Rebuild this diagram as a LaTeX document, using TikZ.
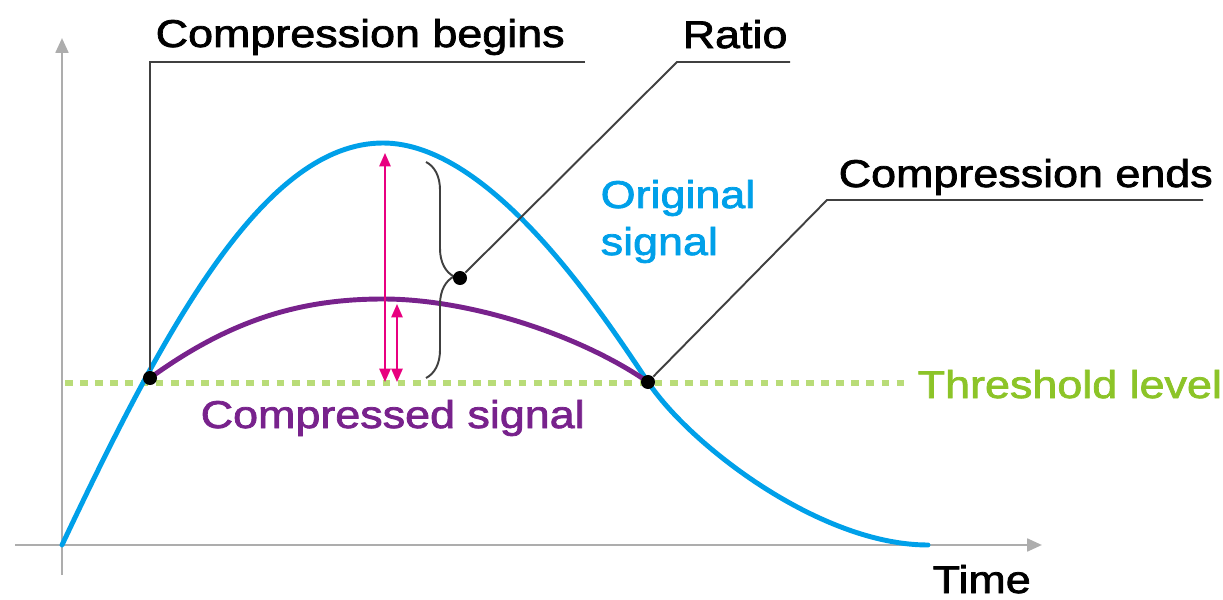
\documentclass[tikz,border=0pt]{standalone}
\usepackage{fontspec}
\setmainfont[FakeStretch=1.16,FakeBold=2]{Liberation Sans}
\usetikzlibrary{arrows.meta,decorations.pathreplacing}

\begin{document}
\begin{tikzpicture}[x=0.01cm,y=-0.01cm]
  \definecolor{sig}{RGB}{0,160,233}
  \definecolor{cmp}{RGB}{120,34,140}
  \definecolor{thr}{RGB}{140,196,40}
  \definecolor{thrdot}{RGB}{185,220,120}
  \definecolor{rat}{RGB}{232,0,128}
  \colorlet{ax}{black!32}
  \colorlet{ld}{black!75}
  \tikzset{lbl/.style={font=\fontsize{11}{13}\selectfont,inner sep=0pt,anchor=base west},
    dot/.style={circle,fill=black,inner sep=0pt,minimum size=0.14cm},
    lead/.style={line width=0.55pt,ld},
    ratarrow/.style={rat,line width=0.55pt,>={Triangle[length=3.8pt,width=3.2pt]},<->}}
  \useasboundingbox (0,0) rectangle (1223,600);

  % time axis and level axis
  \coordinate (yb) at (62,575);
  \coordinate (yt) at (62,38);
  \coordinate (xl) at (15,545);
  \coordinate (xr) at (1042,545);
  \draw[line width=0.75pt,ax,-{Triangle[length=4.2pt,width=3.6pt]}] (yb) -- (yt);
  \draw[line width=0.75pt,ax,-{Triangle[length=4.2pt,width=3.6pt]}] (xl) -- (xr);
  \node[lbl] (time) at (932,593) {Time};

  % threshold
  \coordinate (th0) at (65,383);
  \coordinate (th1) at (905,383);
  \draw[thrdot,line width=1.9pt,dash pattern=on 2.2pt off 2.1pt] (th0) -- (th1);
  \node[lbl,text=thr] (thr) at (917,398) {Threshold level};

  % the two signals
  \draw[sig,line width=1.4pt,line cap=round] (62,545) .. controls (166,325) and (265,143) .. (383,143)
    .. controls (490,143) and (600,310) .. (648,382)
    .. controls (690,445) and (820,545) .. (928,545);
  \draw[cmp,line width=1.4pt] (150,378) .. controls (230,320) and (300,299) .. (383,299)
    .. controls (470,299) and (580,335) .. (648,382);
  \node[lbl,text=sig] (orig1) at (600,208) {Original};
  \node[lbl,text=sig] (orig2) at (600,255) {signal};
  \node[lbl,text=cmp] (comp) at (200,428) {Compressed signal};

  % ratio arrows and brace
  \coordinate (aTop) at (385,153);
  \coordinate (aBot) at (385,382);
  \coordinate (bTop) at (397,304);
  \coordinate (bBot) at (397,382);
  \draw[ratarrow] (aBot) -- (aTop);
  \draw[ratarrow] (bBot) -- (bTop);
  \draw[ld,line width=0.55pt,decorate,decoration={brace,amplitude=0.28cm,aspect=0.53}]
    (426,162) -- (426,378);

  % labels with leaders
  \node[dot] (pb) at (150,378) {};
  \node[dot] (pe) at (648,382) {};
  \node[dot] (pr) at (460,278) {};
  \node[lbl] (beg) at (155,47) {Compression begins};
  \coordinate (begL) at (150,62);
  \coordinate (begR) at (585,62);
  \draw[lead] (begR) -- (begL) -- (pb);
  \node[lbl] (ratio) at (682,48) {Ratio};
  \coordinate (ratL) at (677,62);
  \coordinate (ratR) at (790,62);
  \draw[lead] (ratR) -- (ratL) -- (pr);
  \node[lbl] (ends) at (838,187) {Compression ends};
  \coordinate (endL) at (827,200);
  \coordinate (endR) at (1203,200);
  \draw[lead] (endR) -- (endL) -- (pe);
\end{tikzpicture}
\end{document}
